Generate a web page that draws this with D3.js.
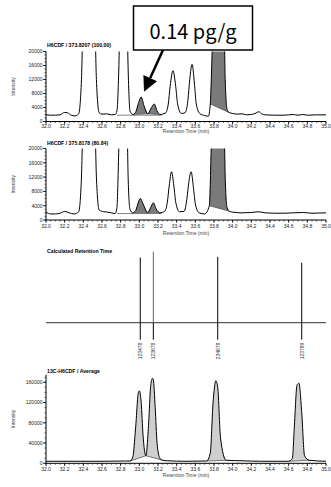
<!DOCTYPE html>
<html>
<head>
<meta charset="utf-8">
<script src="https://cdn.jsdelivr.net/npm/d3@7/dist/d3.min.js"></script>
<style>
  html, body { margin: 0; padding: 0; background: #fff; }
  svg { display: block; font-family: "Liberation Sans", Arial, sans-serif; }
</style>
</head>
<body>
<div id="chart"></div>
<script>
// retention time axis
const xTickValues = [32.0, 32.2, 32.4, 32.6, 32.8, 33.0, 33.2, 33.4, 33.6, 33.8, 34.0, 34.2, 34.4, 34.6, 34.8, 35.0];
const yTicksNative = [0, 4000, 8000, 12000, 16000, 20000];
const yTicksLabel = [0, 40000, 80000, 120000, 160000];

// H6CDF / 373.8207 (100.00)
const trace1T = [32.00, 32.05, 32.10, 32.15, 32.20, 32.23, 32.27, 32.31, 32.35, 32.38, 32.40, 32.52, 32.54, 32.57, 32.60, 32.65, 32.70, 32.74, 32.76, 32.78, 32.80, 32.86, 32.88, 32.90, 32.93, 32.96, 32.99, 33.02, 33.05, 33.09, 33.13, 33.16, 33.19, 33.22, 33.28, 33.31, 33.33, 33.36, 33.39, 33.41, 33.45, 33.49, 33.52, 33.54, 33.565, 33.59, 33.61, 33.65, 33.70, 33.74, 33.76, 33.78, 33.80, 33.90, 33.92, 33.94, 33.96, 34.00, 34.05, 34.10, 34.15, 34.20, 34.25, 34.28, 34.31, 34.35, 34.45, 34.55, 34.60, 34.65, 34.70, 34.75, 34.80, 34.90, 35.00];
const trace1I = [1900, 1800, 1800, 1900, 2600, 2500, 1800, 1600, 2200, 12000, 30000, 30000, 12000, 2500, 2100, 2200, 1900, 2000, 3000, 15000, 40000, 40000, 15000, 3000, 2000, 2600, 5200, 7000, 4500, 2200, 4000, 5000, 3000, 2000, 2400, 5000, 10000, 14500, 10000, 5000, 2300, 2500, 6000, 12000, 16300, 11000, 5000, 2200, 1700, 1500, 5000, 20000, 40000, 40000, 12000, 3500, 2600, 2300, 2100, 2200, 1900, 2000, 2400, 2800, 2200, 1900, 1800, 1800, 1900, 2000, 1800, 2000, 1800, 1900, 1900];

// H6CDF / 375.8178 (80.84)
const trace2T = [32.00, 32.05, 32.10, 32.15, 32.20, 32.25, 32.30, 32.35, 32.38, 32.40, 32.52, 32.54, 32.57, 32.62, 32.66, 32.70, 32.74, 32.76, 32.78, 32.80, 32.86, 32.88, 32.90, 32.93, 32.96, 32.99, 33.01, 33.04, 33.09, 33.12, 33.15, 33.18, 33.22, 33.27, 33.30, 33.32, 33.345, 33.37, 33.39, 33.43, 33.48, 33.51, 33.53, 33.555, 33.58, 33.60, 33.64, 33.70, 33.75, 33.77, 33.79, 33.90, 33.92, 33.94, 33.96, 34.00, 34.10, 34.20, 34.28, 34.35, 34.45, 34.55, 34.65, 34.75, 34.85, 35.00];
const trace2I = [2200, 1700, 1700, 1900, 2400, 2000, 1700, 2300, 12000, 30000, 30000, 12000, 2800, 2300, 2200, 2000, 1800, 3500, 20000, 40000, 40000, 12000, 3000, 2000, 2600, 5000, 6000, 4500, 2000, 3400, 4800, 3100, 2000, 2400, 5000, 9500, 13500, 9500, 5000, 2300, 2400, 6000, 10500, 13500, 9000, 4500, 2000, 1700, 4000, 20000, 40000, 40000, 12000, 3500, 2500, 2200, 2000, 2100, 2300, 2000, 1900, 1900, 2000, 2100, 1900, 2000];

// 13C-H6CDF / Average
const trace4T = [32.00, 32.30, 32.60, 32.85, 32.90, 32.93, 32.96, 32.99, 33.00, 33.02, 33.04, 33.07, 33.10, 33.12, 33.14, 33.15, 33.17, 33.19, 33.22, 33.25, 33.30, 33.50, 33.72, 33.76, 33.79, 33.82, 33.84, 33.87, 33.93, 34.10, 34.30, 34.60, 34.64, 34.66, 34.69, 34.71, 34.74, 34.77, 34.82, 35.00];
const trace4I = [4000, 4000, 4000, 4500, 4500, 12000, 70000, 140000, 143000, 120000, 55000, 15000, 80000, 150000, 168000, 165000, 110000, 40000, 10000, 6000, 5000, 4000, 4500, 20000, 120000, 163000, 150000, 50000, 6000, 5000, 4000, 4000, 10000, 70000, 155000, 158000, 100000, 15000, 6000, 4000];

// integrated peak windows [start, end]
const fill1 = [[32.93, 33.09], [33.09, 33.22], [33.76, 33.96]];
const fill2 = [[32.93, 33.09], [33.09, 33.22], [33.75, 33.96]];
const fill4 = [[32.90, 33.07], [33.07, 33.25], [33.72, 33.93], [34.60, 34.82]];

// calculated retention times
const isomers = ["123478", "123678", "234678", "123789"];
const isomerRT = [33.01, 33.15, 33.84, 34.74];
const isomerHeight = [0.89, 0.97, 0.90, 0.82];

const annotation = "0.14 pg/g";

const W = 331, H = 487;
const svg = d3.select('#chart').append('svg').attr('width', W).attr('height', H);
const x = d3.scaleLinear().domain([32, 35]).range([46, 326]);
const minorX = d3.range(32, 35.001, 0.05);

const panels = [
  { id: 'p1', title: 'H6CDF / 373.8207 (100.00)', titleY: 47, y: d3.scaleLinear().domain([0, 20000]).range([121.5, 51.5]), top: 20000, ticks: yTicksNative, minorStep: 1000, t: trace1T, v: trace1I, fills: fill1, fillColor: '#7a7a7a', baseLine: [32.76, 33.24], xLabY: 127.5, rtY: 133 },
  { id: 'p2', title: 'H6CDF / 375.8178 (80.84)', titleY: 145, y: d3.scaleLinear().domain([0, 20000]).range([220, 148.5]), top: 20000, ticks: yTicksNative, minorStep: 1000, t: trace2T, v: trace2I, fills: fill2, fillColor: '#7a7a7a', baseLine: [32.76, 33.24], xLabY: 227.5, rtY: 235 },
  { id: 'p4', title: '13C-H6CDF / Average', titleY: 373, y: d3.scaleLinear().domain([0, 160000]).range([463.3, 382.3]), top: 175000, ticks: yTicksLabel, minorStep: 10000, t: trace4T, v: trace4I, fills: fill4, fillColor: '#cfcfcf', baseLine: null, xLabY: 470.5, rtY: 477 }
];

panels.forEach(p => {
  const g = svg.append('g');
  const y = p.y;
  const pts = p.t.map((t, i) => [t, p.v[i]]);
  const yTop = y(p.top);

  svg.append('clipPath').attr('id', 'clip-' + p.id)
    .append('rect').attr('x', x(32)).attr('y', yTop).attr('width', x(35) - x(32) + 2).attr('height', y(0) - yTop);

  const plot = g.append('g').attr('clip-path', `url(#clip-${p.id})`);

  // shaded integrated peaks
  p.fills.forEach(([a, b]) => {
    const seg = pts.filter(d => d[0] >= a - 1e-9 && d[0] <= b + 1e-9);
    const v0 = seg[0][1], v1 = seg[seg.length - 1][1];
    const base = d3.scaleLinear().domain([a, b]).range([v0, v1]);
    plot.append('path')
      .datum(seg)
      .attr('fill', p.fillColor)
      .attr('d', d3.area().curve(d3.curveMonotoneX)
        .x(d => x(d[0])).y1(d => y(d[1])).y0(d => y(base(d[0])))(seg));
    plot.append('line')
      .attr('x1', x(a)).attr('x2', x(b)).attr('y1', y(v0)).attr('y2', y(v1))
      .attr('stroke', '#555').attr('stroke-width', 0.8);
  });

  if (p.baseLine) {
    plot.append('line')
      .attr('x1', x(p.baseLine[0])).attr('x2', x(p.baseLine[1]))
      .attr('y1', y(1800)).attr('y2', y(1800))
      .attr('stroke', '#666').attr('stroke-width', 0.8);
  }

  plot.append('path')
    .datum(pts)
    .attr('fill', 'none')
    .attr('stroke', '#000')
    .attr('stroke-width', 1)
    .attr('d', d3.line().curve(d3.curveMonotoneX).x(d => x(d[0])).y(d => y(d[1])));

  // axes
  const axisG = g.append('g').attr('font-size', 5).attr('fill', '#222');
  axisG.append('line').attr('x1', x(32)).attr('x2', x(35)).attr('y1', y(0)).attr('y2', y(0)).attr('stroke', '#000');
  axisG.append('line').attr('x1', x(32)).attr('x2', x(32)).attr('y1', y(0)).attr('y2', yTop).attr('stroke', '#000');

  axisG.selectAll('.xminor').data(minorX).join('line')
    .attr('x1', d => x(d)).attr('x2', d => x(d)).attr('y1', y(0)).attr('y2', y(0) + 1.5)
    .attr('stroke', '#000').attr('stroke-width', 0.6);
  axisG.selectAll('.xmajor').data(xTickValues).join('line')
    .attr('x1', d => x(d)).attr('x2', d => x(d)).attr('y1', y(0)).attr('y2', y(0) + 2.8)
    .attr('stroke', '#000').attr('stroke-width', 0.8);
  axisG.selectAll('.xlab').data(xTickValues).join('text')
    .attr('x', d => x(d)).attr('y', p.xLabY)
    .attr('text-anchor', 'middle')
    .text(d => d3.format('.1f')(d));

  const minorY = d3.range(0, p.top + 1, p.minorStep).filter(v => y(v) >= yTop - 0.1);
  axisG.selectAll('.yminor').data(minorY).join('line')
    .attr('x1', x(32) - 1.5).attr('x2', x(32)).attr('y1', d => y(d)).attr('y2', d => y(d))
    .attr('stroke', '#000').attr('stroke-width', 0.6);
  axisG.selectAll('.ymajor').data(p.ticks).join('line')
    .attr('x1', x(32) - 3).attr('x2', x(32)).attr('y1', d => y(d)).attr('y2', d => y(d))
    .attr('stroke', '#000').attr('stroke-width', 0.8);
  axisG.selectAll('.ylab').data(p.ticks).join('text')
    .attr('x', x(32) - 3.5).attr('y', d => y(d) + 1.8)
    .attr('text-anchor', 'end')
    .text(d => d);

  g.append('text').attr('x', 186).attr('y', p.rtY)
    .attr('text-anchor', 'middle').attr('font-size', 5).attr('fill', '#444')
    .text('Retention Time (min)');
  g.append('text')
    .attr('transform', `translate(15,${(y(0) + yTop) / 2}) rotate(-90)`)
    .attr('text-anchor', 'middle').attr('font-size', 5).attr('fill', '#444')
    .text('Intensity');
  g.append('text').attr('x', x(32) + 1).attr('y', p.titleY)
    .attr('font-size', 5.2).attr('font-weight', 'bold').attr('fill', '#000')
    .text(p.title);
});

// calculated retention time panel
const stemY = d3.scaleLinear().domain([0, 1]).range([322.7, 249.5]);
const p3 = svg.append('g');
p3.append('text').attr('x', x(32) + 1).attr('y', 253)
  .attr('font-size', 5.2).attr('font-weight', 'bold').text('Calculated Retention Time');
p3.append('line').attr('x1', x(32)).attr('x2', x(35)).attr('y1', stemY(0)).attr('y2', stemY(0))
  .attr('stroke', '#333').attr('stroke-width', 1);
p3.selectAll('.stem').data(isomerRT).join('line')
  .attr('x1', d => x(d)).attr('x2', d => x(d))
  .attr('y1', stemY(0)).attr('y2', (d, i) => stemY(isomerHeight[i]))
  .attr('stroke', (d, i) => i === 1 ? '#666' : '#000').attr('stroke-width', 1);
p3.selectAll('.tick').data(isomerRT).join('line')
  .attr('x1', d => x(d)).attr('x2', d => x(d))
  .attr('y1', stemY(0)).attr('y2', stemY(0) + 17)
  .attr('stroke', '#000').attr('stroke-width', 1);
p3.selectAll('.lab').data(isomerRT).join('text')
  .attr('transform', d => `translate(${x(d) + 1.8},351) rotate(-90)`)
  .attr('text-anchor', 'middle').attr('font-size', 5).attr('fill', '#333')
  .text((d, i) => isomers[i]);

// annotation box + arrow (panel 1)
const ann = svg.append('g');
const y1 = panels[0].y;
const tip = [x(33.05), y1(8500)];
const tail = [163, 50];
const dx = tip[0] - tail[0], dy = tip[1] - tail[1];
const len = Math.hypot(dx, dy), ux = dx / len, uy = dy / len;
const headL = 15, headW = 7.5;
const bx = tip[0] - ux * headL, by = tip[1] - uy * headL;
ann.append('line').attr('x1', tail[0]).attr('y1', tail[1]).attr('x2', bx).attr('y2', by)
  .attr('stroke', '#000').attr('stroke-width', 2.5);
ann.append('path')
  .attr('d', `M${tip[0]},${tip[1]}L${bx - uy * headW},${by + ux * headW}L${bx + uy * headW},${by - ux * headW}Z`)
  .attr('fill', '#000');
ann.append('rect').attr('x', 133.5).attr('y', 6).attr('width', 119).attr('height', 44)
  .attr('fill', '#fff').attr('stroke', '#000').attr('stroke-width', 1.5);
ann.append('text').attr('x', 193).attr('y', 39)
  .attr('text-anchor', 'middle').attr('font-size', 20)
  .attr('font-family', '"Noto Sans CJK JP", "Noto Sans", sans-serif')
  .text(annotation);
</script>
</body>
</html>
